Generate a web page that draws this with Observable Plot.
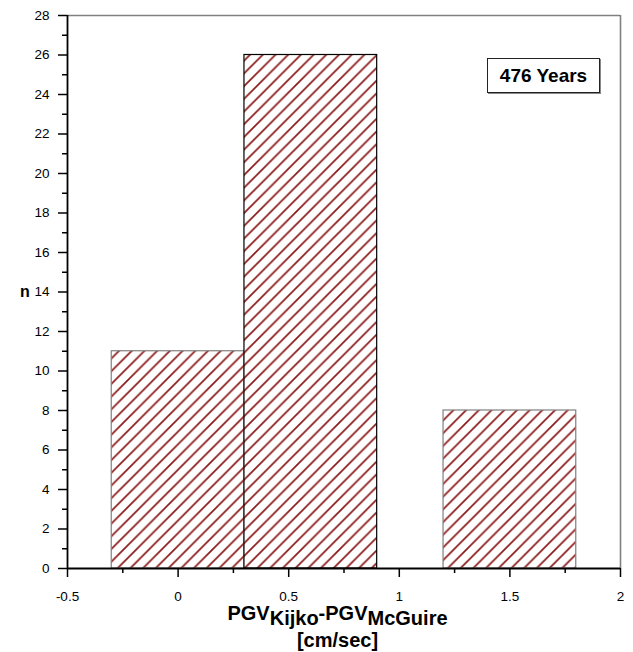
<!DOCTYPE html>
<html>
<head>
<meta charset="utf-8">
<script src="https://cdn.jsdelivr.net/npm/d3@7"></script>
<script src="https://cdn.jsdelivr.net/npm/@observablehq/plot@0.6"></script>
<style>
  body { margin: 0; background: #fff; }
  #wrap { position: relative; width: 633px; height: 652px; font-family: Arial, "Liberation Sans", sans-serif; }
  #wrap svg [aria-label$="tick label"] text, #wrap svg [aria-label$="tick label"] { font-size: 13.5px !important; font-family: Arial, "Liberation Sans", sans-serif !important; fill: #000; }
  #legend { position: absolute; left: 487px; top: 58px; width: 113px; height: 35px; border: 1px solid #222;
    box-shadow: 1px 1px 0 #888; background: #fff; display: flex; align-items: center; justify-content: center;
    font: bold 19px Arial, "Liberation Sans", sans-serif; color: #000; box-sizing: border-box; }
</style>
</head>
<body>
<div id="wrap"></div>
<script>
// Data
const binStart = [-0.3, 0.3, 1.2];
const binEnd   = [0.3, 0.9, 1.8];
const counts   = [11, 26, 8];
const xMajorTicks = [-0.5, 0, 0.5, 1, 1.5, 2];
const xMinorTicks = [-0.25, 0.25, 0.75, 1.25, 1.75];
const yMajorTicks = [0, 2, 4, 6, 8, 10, 12, 14, 16, 18, 20, 22, 24, 26, 28];
const yMinorTicks = [1, 3, 5, 7, 9, 11, 13, 15, 17, 19, 21, 23, 25, 27];
const legendText = "476 Years";

const bars = binStart.map((s, i) => ({x1: s, x2: binEnd[i], y: counts[i], edge: i === 1 ? "#000" : "#808080"}));

const chart = Plot.plot({
  width: 633,
  height: 652,
  marginLeft: 67,
  marginRight: 13,
  marginTop: 15,
  marginBottom: 84,
  style: {fontFamily: "Arial, 'Liberation Sans', sans-serif", fontSize: "13.5px", color: "#000", background: "#fff"},
  x: {domain: [-0.5, 2], label: null},
  y: {domain: [0, 28], label: null},
  marks: [
    Plot.rect(bars, {x1: "x1", x2: "x2", y1: 0, y2: "y", fill: "url(#hatch)", stroke: "edge", strokeWidth: 1.2}),
    Plot.ruleY([28], {stroke: "#808080", strokeWidth: 1.6}),
    Plot.ruleX([2], {stroke: "#808080", strokeWidth: 1.6}),
    Plot.ruleX([-0.5], {stroke: "#000", strokeWidth: 1.8}),
    Plot.ruleY([0], {stroke: "#000", strokeWidth: 1.8}),
    Plot.axisY(yMajorTicks, {tickSize: 9, tickPadding: 9, tickFormat: d => String(d), stroke: "#000", strokeWidth: 1.5, fontSize: 13.5}),
    Plot.axisY(yMinorTicks, {tickSize: 5, tickFormat: () => "", stroke: "#000", strokeWidth: 1.5}),
    Plot.axisX(xMajorTicks, {tickSize: 9, tickPadding: 14, tickFormat: d => String(d), stroke: "#000", strokeWidth: 1.5, fontSize: 13.5}),
    Plot.axisX(xMinorTicks, {tickSize: 5, tickFormat: () => "", stroke: "#000", strokeWidth: 1.5})
  ]
});

// hatch pattern: "/" lines
const svg = d3.select(chart);
const defs = svg.insert("defs", ":first-child");
const s = 12.7;
const pat = defs.append("pattern")
  .attr("id", "hatch")
  .attr("patternUnits", "userSpaceOnUse")
  .attr("width", s).attr("height", s);
pat.append("rect").attr("width", s).attr("height", s).attr("fill", "#fff");
pat.append("path")
  .attr("d", `M-2,2 L2,-2 M0,${s} L${s},0 M${s - 2},${s + 2} L${s + 2},${s - 2}`)
  .attr("stroke", "#8b1a1a").attr("stroke-width", 1.7);

// axis titles
const xs = chart.scale("x"), ys = chart.scale("y");
const cx = (xs.apply(-0.5) + xs.apply(2)) / 2 - 6;
const font = "Arial, 'Liberation Sans', sans-serif";
const t1 = svg.append("text").attr("x", cx).attr("y", 620).attr("text-anchor", "middle")
  .attr("font-family", font).attr("font-weight", "bold").attr("font-size", 20).attr("fill", "#000");
t1.append("tspan").text("PGV");
t1.append("tspan").attr("dy", 5).text("Kijko");
t1.append("tspan").attr("dy", -5).text("-PGV");
t1.append("tspan").attr("dy", 5).text("McGuire");
svg.append("text").attr("x", cx).attr("y", 647).attr("text-anchor", "middle")
  .attr("font-family", font).attr("font-weight", "bold").attr("font-size", 20).attr("fill", "#000")
  .text("[cm/sec]");
svg.append("text").attr("x", 25).attr("y", (ys.apply(0) + ys.apply(28)) / 2 + 5).attr("text-anchor", "middle")
  .attr("font-family", font).attr("font-weight", "bold").attr("font-size", 16).attr("fill", "#000")
  .text("n");

const wrap = document.getElementById("wrap");
wrap.appendChild(chart);
const lg = document.createElement("div");
lg.id = "legend";
lg.textContent = legendText;
wrap.appendChild(lg);
</script>
</body>
</html>
